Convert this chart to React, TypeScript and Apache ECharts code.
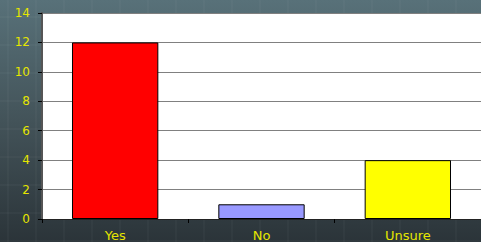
import React, { useEffect, useRef } from "react";
import * as echarts from "echarts";

const categories = ["Yes", "No", "Unsure"];
const values = [12, 1, 4];
const barColors = ["#ff0000", "#9999ff", "#ffff00"];
const yTicks = { min: 0, max: 14, interval: 2 };

const W = 481;
const H = 242;

export default function App() {
  const ref = useRef<HTMLDivElement>(null);
  useEffect(() => {
    if (!ref.current) return;
    const chart = echarts.init(ref.current, null, { renderer: "svg", width: W, height: H });
    const bgLines: any[] = [];
    for (let x = 8; x < W; x += 28) {
      bgLines.push({
        type: "line",
        z: -10,
        silent: true,
        shape: { x1: x, y1: 0, x2: x, y2: H },
        style: { stroke: "rgba(255,255,255,0.06)", lineWidth: 1 },
      });
    }
    for (let y = 17; y < H; y += 28) {
      bgLines.push({
        type: "line",
        z: -10,
        silent: true,
        shape: { x1: 0, y1: y, x2: W, y2: y },
        style: { stroke: "rgba(255,255,255,0.06)", lineWidth: 1 },
      });
    }
    chart.setOption({
      animation: false,
      backgroundColor: {
        type: "linear",
        x: 0,
        y: 0,
        x2: 0,
        y2: 1,
        colorStops: [
          { offset: 0, color: "#587179" },
          { offset: 0.5, color: "#435359" },
          { offset: 1, color: "#2b3439" },
        ],
      },
      textStyle: { fontFamily: "DejaVu Sans, sans-serif" },
      graphic: bgLines,
      grid: {
        left: 42,
        top: 13,
        right: 0,
        bottom: 23,
        show: true,
        backgroundColor: "#ffffff",
        borderWidth: 0,
      },
      xAxis: {
        type: "category",
        data: categories,
        axisLine: { show: true, lineStyle: { color: "#222", width: 1 } },
        axisTick: { show: true, length: 4, lineStyle: { color: "#000" } },
        axisLabel: { color: "#e6e600", fontSize: 13, margin: 10 },
        splitLine: { show: false },
      },
      yAxis: {
        type: "value",
        min: yTicks.min,
        max: yTicks.max,
        interval: yTicks.interval,
        axisLine: { show: true, lineStyle: { color: "#555", width: 2 } },
        axisTick: { show: true, length: 4, lineStyle: { color: "#000" } },
        axisLabel: { color: "#e6e600", fontSize: 12, margin: 12 },
        splitLine: { show: true, lineStyle: { color: "#808080", width: 1 } },
      },
      series: [
        {
          type: "bar",
          barWidth: "59%",
          data: values.map((v, i) => ({
            value: v,
            itemStyle: { color: barColors[i], borderColor: "#000", borderWidth: 1 },
          })),
        },
      ],
    });
    return () => chart.dispose();
  }, []);
  return (
    <div
      ref={ref}
      style={{ position: "fixed", left: 0, top: 0, width: W, height: H }}
    />
  );
}
